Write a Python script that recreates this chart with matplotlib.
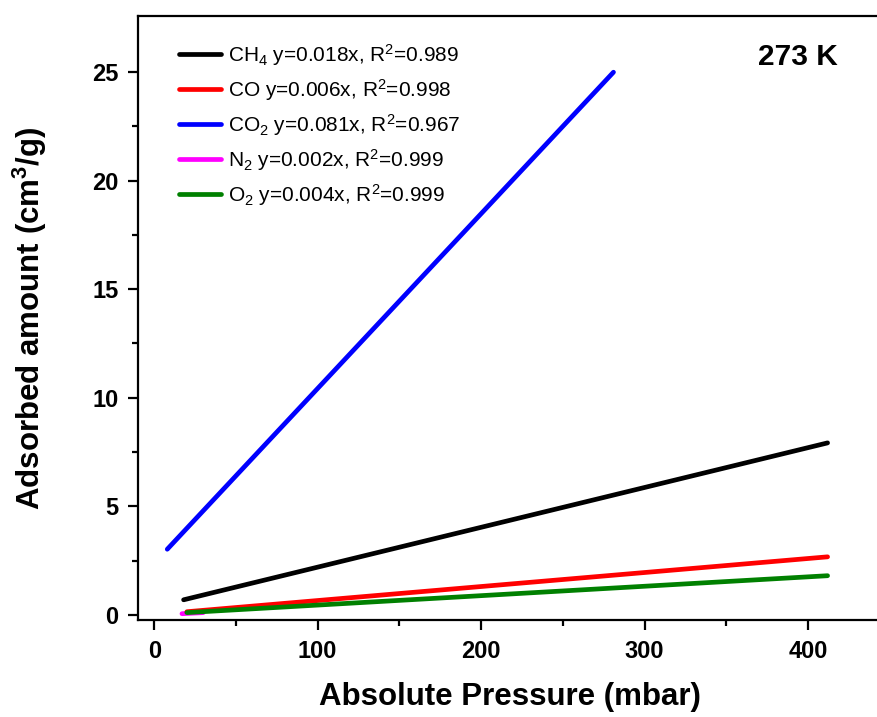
import matplotlib.pyplot as plt
import numpy as np

plt.rcParams['font.family'] = ['Liberation Sans', 'DejaVu Sans']
plt.rcParams['mathtext.fontset'] = 'custom'
plt.rcParams['mathtext.rm'] = 'Liberation Sans'
plt.rcParams['mathtext.bf'] = 'Liberation Sans:bold'
plt.rcParams['mathtext.default'] = 'regular'

# fitted lines, endpoints (pressure in mbar, amount in cm3/g)
gases = ['CH4', 'CO', 'CO2', 'N2', 'O2']
labels = ['CH$_4$ y=0.018x, R$^2$=0.989',
          'CO y=0.006x, R$^2$=0.998',
          'CO$_2$ y=0.081x, R$^2$=0.967',
          'N$_2$ y=0.002x, R$^2$=0.999',
          'O$_2$ y=0.004x, R$^2$=0.999']
p_start = [18, 20, 8, 17, 20]
p_end = [412, 412, 281, 30, 412]
q_start = [0.69, 0.14, 3.02, 0.05, 0.10]
q_end = [7.92, 2.67, 25.0, 0.10, 1.80]
colors = ['black', 'red', 'blue', 'magenta', 'green']

fig = plt.figure(figsize=(8.78, 7.17), dpi=100)
ax = fig.add_axes([0.157, 0.135, 0.847, 0.843])

# magenta drawn first so the others sit on top, as in the original
order = [3, 0, 1, 2, 4]
handles = {}
for i in order:
    h, = ax.plot([p_start[i], p_end[i]], [q_start[i], q_end[i]],
                 color=colors[i], lw=3.4, solid_capstyle='round', label=labels[i])
    handles[i] = h

ax.legend([handles[i] for i in range(5)], labels, loc='upper left',
          bbox_to_anchor=(0.03, 0.988), frameon=False, fontsize=15,
          handlelength=2.0, handletextpad=0.35, labelspacing=0.44)

ax.text(0.941, 0.955, '273 K', transform=ax.transAxes, ha='right', va='top',
        fontsize=21.5, fontweight='bold')

ax.set_xlim(-10, 445)
ax.set_ylim(-0.25, 27.6)
ax.set_xticks([0, 100, 200, 300, 400])
ax.set_xticks([50, 150, 250, 350], minor=True)
ax.set_yticks([0, 5, 10, 15, 20, 25])
ax.set_yticks([2.5, 7.5, 12.5, 17.5, 22.5], minor=True)

for s in ax.spines.values():
    s.set_linewidth(1.6)
ax.spines['right'].set_visible(False)

ax.tick_params(which='major', direction='out', length=7, width=1.6, labelsize=17, pad=7)
ax.tick_params(which='minor', direction='out', length=4, width=1.6)
for t in ax.get_xticklabels() + ax.get_yticklabels():
    t.set_fontweight('bold')

ax.set_xlabel('Absolute Pressure (mbar)', fontsize=22.5, fontweight='bold', labelpad=14)
ax.set_ylabel(r'Adsorbed amount (cm$^\mathbf{3}$/g)', fontsize=22.5, fontweight='bold',
              labelpad=31)

fig.savefig('out.png', dpi=100)
